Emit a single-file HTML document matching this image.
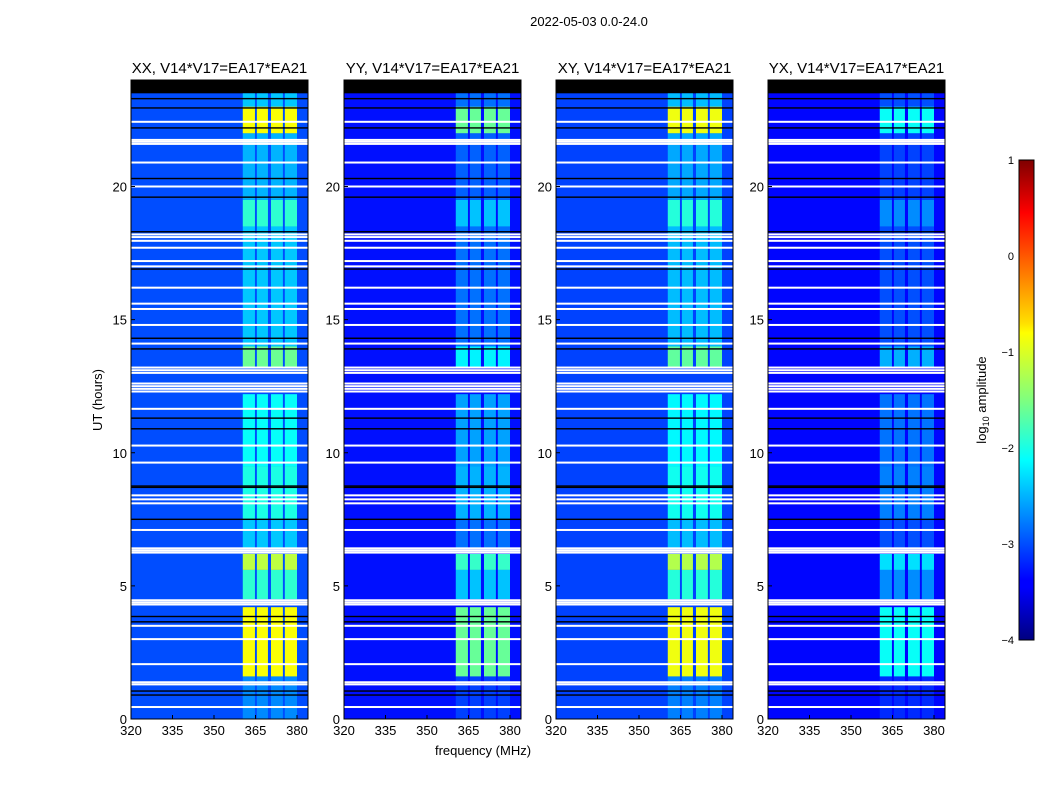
<!DOCTYPE html>
<html><head><meta charset="utf-8"><style>
body{margin:0;background:#fff;font-family:"Liberation Sans",sans-serif}
svg text{font-family:"Liberation Sans",sans-serif;fill:#000}
</style></head><body>
<svg id="c" width="1050" height="800" xmlns="http://www.w3.org/2000/svg">
<defs><linearGradient id="jet" x1="0" y1="1" x2="0" y2="0">
<stop offset="0" stop-color="#00007f"/><stop offset="0.11" stop-color="#0000ff"/><stop offset="0.125" stop-color="#0000ff"/><stop offset="0.34" stop-color="#00dcff"/><stop offset="0.375" stop-color="#0ff"/><stop offset="0.5" stop-color="#7fff7f"/><stop offset="0.64" stop-color="#ffff00"/><stop offset="0.66" stop-color="#ffe000"/><stop offset="0.89" stop-color="#ff0000"/><stop offset="1" stop-color="#7f0000"/></linearGradient></defs>
<text x="589" y="26" font-size="13" text-anchor="middle">2022-05-03 0.0-24.0</text>
<text x="483" y="755" font-size="13" text-anchor="middle">frequency (MHz)</text>
<text x="102" y="400" font-size="13" text-anchor="middle" transform="rotate(-90 102 400)">UT (hours)</text>
<rect x="1019" y="160" width="15" height="480" fill="url(#jet)" stroke="#000"/>
<text x="986" y="400" font-size="13" text-anchor="middle" transform="rotate(-90 986 400)">log<tspan font-size="9" dy="3">10</tspan><tspan dy="-3"> amplitude</tspan></text>
</svg>
<script>
const panelTitles=["XX, V14*V17=EA17*EA21","YY, V14*V17=EA17*EA21","XY, V14*V17=EA17*EA21","YX, V14*V17=EA17*EA21"];
const panelLeft=[131,344,556,768];
const panelBg=[-3.0,-3.3,-3.05,-3.35];
const panelGain=[1.0,0.8,1.0,0.6];
const xTicks=[320,335,350,365,380];
const yTicks=[0,5,10,15,20];
const cbTicks=[1,0,-1,-2,-3,-4];
const bandStart=[360.4,365.5,370.6,375.6];
const bandEnd=[364.8,369.5,374.9,380.0];
const segStart=[0,1.6,4.5,5.6,6.4,7.5,9.5,13.2,14.0,18.5,19.5,22.0,23.0];
const segEnd=[1.6,4.2,5.6,6.2,7.5,9.5,12.2,14.0,18.5,19.5,22.0,23.0,23.5];
const segLevel=[-2.7,-0.9,-1.9,-1.2,-2.4,-2.0,-2.1,-1.6,-2.4,-1.9,-2.5,-0.9,-2.4];
const whiteRows=[0.45,1.3,1.38,2.06,3.0,3.5,4.3,4.38,4.46,6.25,6.33,6.41,7.1,8.1,8.25,8.4,9.63,10.27,11.65,12.3,12.4,12.5,12.6,13.0,13.1,13.2,14.1,14.8,15.4,15.6,16.2,17.0,17.2,17.7,17.96,18.1,18.2,20.0,20.9,21.6,21.68,21.75,22.43];
const blackRows=[0.9,1.05,3.65,3.85,7.5,8.7,8.75,10.9,11.3,13.9,14.3,16.9,18.3,19.6,20.3,22.2,22.95,23.3];
const NS="http://www.w3.org/2000/svg",svg=document.getElementById('c');
const W=177,TOP=80,BOT=719;
function yOf(h){return BOT-(h/24)*(BOT-TOP);}
function jet(v){let t=(v+4)/5;t=Math.max(0,Math.min(1,t));
 const f=x=>Math.max(0,Math.min(1,x));
 const r=f(1.5-Math.abs(4*t-3)),g=f(1.5-Math.abs(4*t-2)),b=f(1.5-Math.abs(4*t-1));
 return `rgb(${Math.round(r*255)},${Math.round(g*255)},${Math.round(b*255)})`;}
function mk(tag,a){const e=document.createElementNS(NS,tag);for(const k in a)e.setAttribute(k,a[k]);svg.appendChild(e);return e;}
panelLeft.forEach((L,p)=>{
 const xOf=f=>L+(f-320)*(41.5/15);
 let e=mk('rect',{x:L,y:TOP,width:W,height:BOT-TOP,fill:jet(panelBg[p])});
 
 
 e=mk('rect',{x:L,y:TOP,width:W,height:yOf(23.5)-TOP,fill:'#000'});
 
 
 segLevel.forEach((lv,s)=>{bandStart.forEach((b0,b)=>{
  const v=panelBg[p]+panelGain[p]*(lv+3.0);
  const r=mk('rect',{x:xOf(b0),y:yOf(segEnd[s]),width:xOf(bandEnd[b])-xOf(b0),height:yOf(segStart[s])-yOf(segEnd[s]),fill:jet(v)});
  
  
 });});
 blackRows.forEach(h=>{const r=mk('rect',{x:L,y:yOf(h)-0.7,width:W,height:1.4,fill:'#000'});
  
  });
 whiteRows.forEach(h=>{const r=mk('rect',{x:L,y:yOf(h)-1,width:W,height:2,fill:'#fff'});
  
  });
 e=mk('rect',{x:L,y:TOP,width:W,height:BOT-TOP,fill:'none',stroke:'#000','stroke-width':1});
 
 
 const t=mk('text',{x:L+W/2,y:73,'font-size':15,'text-anchor':'middle'});t.textContent=panelTitles[p];
 
 
 xTicks.forEach(v=>{const x=xOf(v);
  const tl=mk('line',{x1:x,x2:x,y1:BOT,y2:BOT-4,stroke:'#000'});
  
  
  const tx=mk('text',{x:x,y:BOT+16,'font-size':13,'text-anchor':'middle'});tx.textContent=v;
  
  });
 yTicks.forEach(v=>{const y=yOf(v);
  const tl=mk('line',{x1:L,x2:L+4,y1:y,y2:y,stroke:'#000'});
  
  
  const tx=mk('text',{x:L-4,y:y+5,'font-size':13,'text-anchor':'end'});tx.textContent=v;
  
  });
});
cbTicks.forEach(v=>{const y=160+(1-v)/5*480;
 const tx=mk('text',{x:1014,y:y+4,'font-size':11,'text-anchor':'end'});tx.textContent=v<0?'\u2212'+(-v):v;
 
 });
</script>
</body></html>
